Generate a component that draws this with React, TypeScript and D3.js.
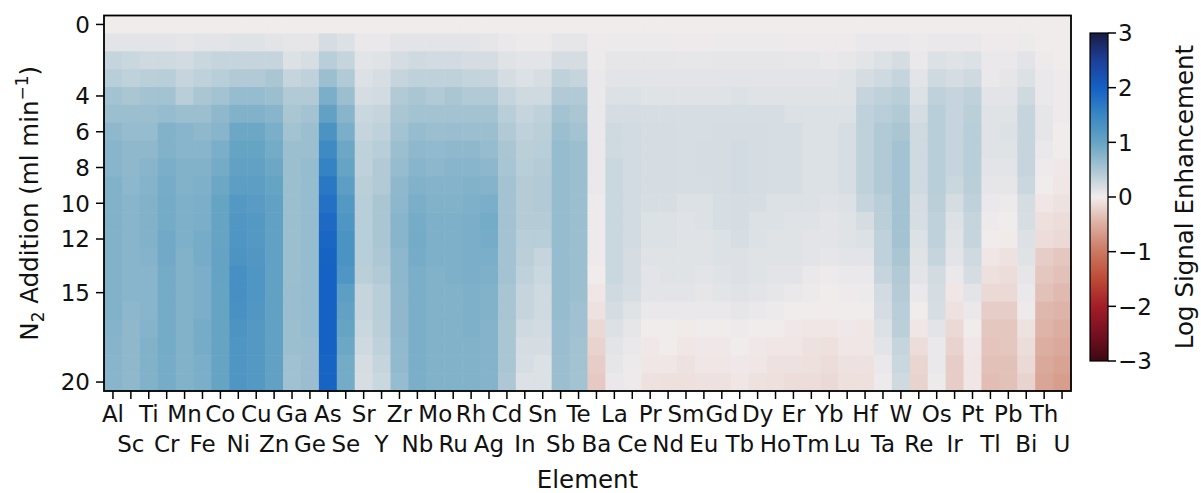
import React, { useEffect, useRef } from "react";
import * as d3 from "d3";

const elements = [
  "Al", "Sc", "Ti", "Cr", "Mn", "Fe", "Co", "Ni", "Cu", "Zn", "Ga", "Ge", "As", "Se",
  "Sr", "Y", "Zr", "Nb", "Mo", "Ru", "Rh", "Ag", "Cd", "In", "Sn", "Sb", "Te",
  "Ba", "La", "Ce", "Pr", "Nd", "Sm", "Eu", "Gd", "Tb", "Dy", "Ho", "Er", "Tm", "Yb", "Lu",
  "Hf", "Ta", "W", "Re", "Os", "Ir", "Pt", "Tl", "Pb", "Bi", "Th", "U",
];

const n2Levels = [0, 1, 2, 3, 4, 5, 6, 7, 8, 9, 10, 11, 12, 13, 14, 15, 16, 17, 18, 19, 20];
const n2Ticks = [0, 4, 6, 8, 10, 12, 15, 20];
const cbarTicks = [3, 2, 1, 0, -1, -2, -3];

// log signal enhancement per element, one value per N2 level (0..20)
const lightMetals = [
  [0, 0.1, 0.3, 0.4, 0.55, 0.6, 0.7, 0.75, 0.75, 0.8, 0.8, 0.8, 0.8, 0.8, 0.8, 0.8, 0.8, 0.78, 0.76, 0.75, 0.75], // Al
  [0, 0.1, 0.28, 0.35, 0.5, 0.6, 0.65, 0.7, 0.7, 0.72, 0.75, 0.75, 0.75, 0.75, 0.75, 0.75, 0.72, 0.7, 0.7, 0.7, 0.7], // Sc
  [0, 0.1, 0.25, 0.38, 0.55, 0.6, 0.65, 0.7, 0.75, 0.78, 0.8, 0.8, 0.8, 0.78, 0.75, 0.75, 0.75, 0.78, 0.8, 0.8, 0.8], // Ti
  [0, 0.1, 0.25, 0.4, 0.55, 0.65, 0.8, 0.8, 0.85, 0.88, 0.9, 0.9, 0.92, 0.92, 0.9, 0.9, 0.9, 0.9, 0.9, 0.88, 0.88], // Cr
  [0, 0.08, 0.22, 0.3, 0.4, 0.6, 0.75, 0.75, 0.8, 0.8, 0.82, 0.82, 0.82, 0.8, 0.8, 0.8, 0.8, 0.8, 0.8, 0.8, 0.8], // Mn
  [0, 0.1, 0.28, 0.35, 0.5, 0.6, 0.7, 0.75, 0.8, 0.82, 0.85, 0.85, 0.88, 0.88, 0.85, 0.85, 0.85, 0.88, 0.88, 0.85, 0.85], // Fe
  [0, 0.1, 0.3, 0.4, 0.55, 0.7, 0.75, 0.85, 0.9, 0.95, 1.0, 1.0, 1.0, 1.02, 1.02, 1.0, 1.0, 1.0, 1.0, 1.0, 1.0], // Co
  [0, 0.12, 0.3, 0.45, 0.65, 0.8, 0.95, 1.0, 1.05, 1.1, 1.2, 1.22, 1.25, 1.28, 1.35, 1.35, 1.32, 1.28, 1.25, 1.25, 1.25], // Ni
  [0, 0.12, 0.3, 0.45, 0.65, 0.8, 0.95, 1.0, 1.05, 1.1, 1.15, 1.2, 1.2, 1.22, 1.25, 1.25, 1.22, 1.2, 1.2, 1.2, 1.2], // Cu
  [0, 0.1, 0.3, 0.5, 0.6, 0.75, 0.85, 0.9, 0.95, 1.0, 1.05, 1.05, 1.05, 1.05, 1.05, 1.05, 1.05, 1.05, 1.05, 1.05, 1.05], // Zn
  [0, 0.08, 0.15, 0.3, 0.45, 0.5, 0.55, 0.6, 0.6, 0.6, 0.6, 0.6, 0.6, 0.6, 0.6, 0.62, 0.62, 0.6, 0.6, 0.58, 0.58], // Ga
  [0, 0.08, 0.18, 0.35, 0.45, 0.55, 0.6, 0.6, 0.65, 0.65, 0.65, 0.65, 0.65, 0.65, 0.65, 0.65, 0.65, 0.65, 0.62, 0.62, 0.62], // Ge
  [0, 0.2, 0.4, 0.6, 0.85, 1.05, 1.3, 1.45, 1.55, 1.7, 1.8, 1.88, 1.92, 1.96, 1.98, 1.98, 1.98, 1.98, 1.98, 1.95, 1.95], // As
  [0, 0.15, 0.3, 0.45, 0.6, 0.75, 0.85, 0.95, 1.0, 1.1, 1.2, 1.25, 1.3, 1.3, 1.25, 1.1, 1.05, 1.0, 0.95, 0.9, 0.9], // Se
];

const midMetals = [
  [0, 0.05, 0.1, 0.15, 0.2, 0.28, 0.3, 0.35, 0.35, 0.38, 0.4, 0.4, 0.4, 0.4, 0.38, 0.3, 0.3, 0.28, 0.25, 0.2, 0.18], // Sr
  [0, 0.05, 0.12, 0.18, 0.22, 0.3, 0.35, 0.4, 0.45, 0.45, 0.5, 0.5, 0.5, 0.48, 0.45, 0.4, 0.4, 0.38, 0.35, 0.3, 0.28], // Y
  [0, 0.1, 0.2, 0.3, 0.45, 0.5, 0.55, 0.6, 0.65, 0.7, 0.72, 0.75, 0.75, 0.72, 0.72, 0.7, 0.7, 0.7, 0.68, 0.68, 0.65], // Zr
  [0, 0.1, 0.25, 0.35, 0.5, 0.55, 0.65, 0.7, 0.75, 0.8, 0.85, 0.88, 0.9, 0.88, 0.85, 0.85, 0.85, 0.85, 0.85, 0.85, 0.85], // Nb
  [0, 0.1, 0.22, 0.35, 0.45, 0.55, 0.6, 0.68, 0.72, 0.78, 0.8, 0.82, 0.82, 0.82, 0.8, 0.8, 0.8, 0.8, 0.8, 0.8, 0.8], // Mo
  [0, 0.1, 0.22, 0.35, 0.5, 0.55, 0.62, 0.7, 0.75, 0.78, 0.8, 0.82, 0.82, 0.82, 0.82, 0.8, 0.8, 0.8, 0.8, 0.8, 0.8], // Ru
  [0, 0.1, 0.2, 0.32, 0.45, 0.55, 0.6, 0.7, 0.75, 0.8, 0.82, 0.85, 0.85, 0.85, 0.85, 0.82, 0.82, 0.82, 0.8, 0.8, 0.8], // Rh
  [0, 0.08, 0.2, 0.3, 0.45, 0.55, 0.6, 0.65, 0.72, 0.78, 0.85, 0.9, 0.88, 0.85, 0.82, 0.8, 0.8, 0.78, 0.78, 0.78, 0.78], // Ag
  [0, 0.05, 0.12, 0.2, 0.3, 0.4, 0.45, 0.5, 0.52, 0.55, 0.55, 0.55, 0.55, 0.55, 0.55, 0.52, 0.52, 0.5, 0.5, 0.5, 0.48], // Cd
  [0, 0.03, 0.1, 0.15, 0.25, 0.3, 0.35, 0.38, 0.4, 0.42, 0.42, 0.42, 0.4, 0.38, 0.35, 0.3, 0.3, 0.25, 0.2, 0.18, 0.15], // In
  [0, 0.03, 0.1, 0.18, 0.25, 0.35, 0.38, 0.4, 0.42, 0.45, 0.45, 0.42, 0.4, 0.3, 0.28, 0.25, 0.25, 0.22, 0.2, 0.15, 0.15], // Sn
  [0, 0.08, 0.2, 0.35, 0.45, 0.55, 0.6, 0.65, 0.65, 0.65, 0.65, 0.65, 0.65, 0.65, 0.65, 0.65, 0.65, 0.62, 0.62, 0.6, 0.6], // Sb
  [0, 0.08, 0.2, 0.3, 0.45, 0.5, 0.55, 0.6, 0.6, 0.6, 0.6, 0.6, 0.6, 0.6, 0.6, 0.6, 0.58, 0.58, 0.55, 0.55, 0.55], // Te
];

const lanthanides = [
  [0, 0.02, 0.03, 0.05, 0.05, 0.05, 0.05, 0.05, 0.05, 0.05, 0.03, 0.02, 0.02, 0.02, 0, -0.05, -0.08, -0.15, -0.2, -0.25, -0.28], // Ba
  [0, 0.03, 0.08, 0.1, 0.15, 0.2, 0.25, 0.25, 0.28, 0.28, 0.28, 0.28, 0.28, 0.28, 0.28, 0.25, 0.2, 0.15, 0.1, 0.08, 0.05], // La
  [0, 0.03, 0.08, 0.1, 0.15, 0.2, 0.22, 0.22, 0.22, 0.22, 0.22, 0.22, 0.22, 0.2, 0.2, 0.18, 0.12, 0.08, 0.05, 0.03, 0.02], // Ce
  [0, 0.03, 0.08, 0.1, 0.12, 0.18, 0.2, 0.2, 0.2, 0.2, 0.18, 0.15, 0.15, 0.12, 0.1, 0.1, 0.05, 0, -0.03, -0.05, -0.08], // Pr
  [0, 0.03, 0.08, 0.1, 0.12, 0.18, 0.2, 0.2, 0.2, 0.2, 0.18, 0.15, 0.15, 0.12, 0.12, 0.1, 0.05, 0, 0, -0.05, -0.1], // Nd
  [0, 0.02, 0.07, 0.1, 0.12, 0.18, 0.18, 0.18, 0.18, 0.18, 0.15, 0.12, 0.12, 0.12, 0.12, 0.1, 0.05, -0.02, -0.05, -0.08, -0.1], // Sm
  [0, 0.02, 0.07, 0.1, 0.12, 0.18, 0.18, 0.2, 0.2, 0.18, 0.15, 0.15, 0.12, 0.12, 0.1, 0.08, 0.05, 0, -0.03, -0.05, -0.08], // Eu
  [0, 0.03, 0.08, 0.1, 0.12, 0.18, 0.2, 0.2, 0.2, 0.2, 0.18, 0.18, 0.15, 0.15, 0.12, 0.1, 0.05, 0, -0.03, -0.05, -0.08], // Gd
  [0, 0.03, 0.08, 0.1, 0.15, 0.18, 0.2, 0.22, 0.22, 0.22, 0.2, 0.2, 0.18, 0.15, 0.15, 0.12, 0.08, 0.02, 0, -0.03, -0.05], // Tb
  [0, 0.03, 0.08, 0.1, 0.12, 0.18, 0.2, 0.2, 0.2, 0.2, 0.18, 0.15, 0.15, 0.12, 0.12, 0.1, 0.05, 0, -0.03, -0.05, -0.08], // Dy
  [0, 0.03, 0.08, 0.1, 0.12, 0.18, 0.18, 0.18, 0.18, 0.18, 0.15, 0.15, 0.12, 0.12, 0.1, 0.08, 0.03, 0, -0.05, -0.08, -0.1], // Ho
  [0, 0.02, 0.07, 0.1, 0.12, 0.15, 0.18, 0.18, 0.18, 0.18, 0.15, 0.12, 0.12, 0.12, 0.1, 0.05, 0, -0.03, -0.05, -0.08, -0.12], // Er
  [0, 0.02, 0.07, 0.1, 0.12, 0.15, 0.15, 0.15, 0.15, 0.15, 0.15, 0.12, 0.1, 0.1, 0.05, 0.03, 0, -0.05, -0.08, -0.1, -0.12], // Tm
  [0, 0.02, 0.05, 0.1, 0.12, 0.15, 0.15, 0.15, 0.15, 0.15, 0.12, 0.1, 0.1, 0.08, 0.02, 0, 0, -0.05, -0.1, -0.12, -0.15], // Yb
  [0, 0.02, 0.07, 0.12, 0.12, 0.15, 0.18, 0.18, 0.18, 0.18, 0.15, 0.12, 0.12, 0.1, 0.05, 0.02, 0, -0.03, -0.05, -0.08, -0.1], // Lu
];

const heavyMetals = [
  [0, 0.05, 0.1, 0.2, 0.3, 0.35, 0.35, 0.35, 0.35, 0.35, 0.3, 0.2, 0.15, 0.1, 0.05, 0.03, 0, -0.05, -0.05, -0.08, -0.1], // Hf
  [0, 0.05, 0.15, 0.25, 0.35, 0.4, 0.45, 0.45, 0.45, 0.45, 0.4, 0.38, 0.35, 0.35, 0.3, 0.22, 0.2, 0.15, 0.1, 0.05, 0.03], // Ta
  [0, 0.05, 0.2, 0.3, 0.4, 0.45, 0.5, 0.55, 0.55, 0.55, 0.55, 0.55, 0.55, 0.5, 0.45, 0.42, 0.4, 0.38, 0.3, 0.28, 0.25], // W
  [0, 0.03, 0.05, 0.1, 0.15, 0.2, 0.25, 0.25, 0.25, 0.25, 0.2, 0.18, 0.15, 0.12, 0.1, 0.05, 0, -0.05, -0.12, -0.18, -0.2], // Re
  [0, 0.05, 0.15, 0.25, 0.35, 0.4, 0.4, 0.4, 0.4, 0.4, 0.38, 0.35, 0.35, 0.3, 0.22, 0.2, 0.18, 0.1, 0.05, 0.05, 0.03], // Os
  [0, 0.05, 0.12, 0.2, 0.3, 0.3, 0.3, 0.3, 0.3, 0.28, 0.2, 0.15, 0.12, 0.1, 0.05, -0.05, -0.08, -0.15, -0.2, -0.25, -0.25], // Ir
  [0, 0.05, 0.15, 0.25, 0.35, 0.38, 0.4, 0.4, 0.4, 0.38, 0.35, 0.3, 0.3, 0.25, 0.2, 0.1, 0.05, 0, -0.03, -0.05, -0.05], // Pt
  [0, 0.02, 0.05, 0.05, 0.1, 0.12, 0.12, 0.12, 0.1, 0.08, 0.05, 0.02, 0, -0.05, -0.1, -0.15, -0.25, -0.3, -0.32, -0.35, -0.38], // Tl
  [0, 0.02, 0.05, 0.08, 0.1, 0.12, 0.15, 0.12, 0.1, 0.08, 0.03, 0, -0.02, -0.08, -0.12, -0.15, -0.25, -0.3, -0.3, -0.35, -0.35], // Pb
  [0, 0.03, 0.1, 0.15, 0.25, 0.3, 0.3, 0.3, 0.3, 0.28, 0.2, 0.18, 0.15, 0.12, 0.08, 0.05, 0.02, -0.08, -0.12, -0.15, -0.2], // Bi
  [0, 0, 0.02, 0.05, 0.05, 0.08, 0.08, 0.05, 0.02, 0, -0.05, -0.1, -0.12, -0.25, -0.3, -0.35, -0.42, -0.45, -0.5, -0.55, -0.58], // Th
  [0, 0, 0, 0.02, 0.02, 0.02, 0, 0, -0.03, -0.05, -0.08, -0.12, -0.15, -0.3, -0.35, -0.4, -0.45, -0.5, -0.55, -0.6, -0.65], // U
];

// diverging "balance"-like colormap, sampled along the colorbar
const cmapValues = [3, 2.5, 2, 1.5, 1, 0.5, 0, -0.5, -1, -1.5, -2, -2.5, -3];
const cmapColors = [
  "#181c43", "#1d3f99", "#1460c4", "#3987c3", "#66a4c4", "#aac6d3", "#f1ecec",
  "#dcaea1", "#cb7862", "#bd4a36", "#a31d28", "#761021", "#3c0912",
];

const App = () => {
  const ref = useRef<SVGSVGElement>(null);

  useEffect(() => {
    const svg = d3.select(ref.current);
    svg.selectAll("*").remove();

    const left = 104;
    const right = 1071;
    const top = 15.5;
    const bottom = 391;
    const font = "DejaVu Sans, sans-serif";
    const tickSize = 23;
    const labelSize = 24.5;

    const table = [...lightMetals, ...midMetals, ...lanthanides, ...heavyMetals];
    const cells: { el: string; n2: number; v: number }[] = [];
    elements.forEach((el, i) => {
      n2Levels.forEach((n2, j) => cells.push({ el, n2, v: table[i][j] }));
    });

    const xScale = d3.scaleBand<string>().domain(elements).range([left, right]);
    const yScale = d3.scaleBand<number>().domain(n2Levels).range([top, bottom]);
    const color = d3.scaleLinear<string>().domain(cmapValues).range(cmapColors).clamp(true);

    // heatmap cells
    svg
      .append("g")
      .selectAll("rect")
      .data(cells)
      .enter()
      .append("rect")
      .attr("x", (d) => xScale(d.el)!)
      .attr("y", (d) => yScale(d.n2)!)
      .attr("width", xScale.bandwidth() + 0.6)
      .attr("height", yScale.bandwidth() + 0.6)
      .attr("fill", (d) => color(d.v));

    svg
      .append("rect")
      .attr("x", left)
      .attr("y", top)
      .attr("width", right - left)
      .attr("height", bottom - top)
      .attr("fill", "none")
      .attr("stroke", "#000")
      .attr("stroke-width", 1.8);

    // y axis
    const yAxis = svg.append("g");
    n2Ticks.forEach((t) => {
      const y = yScale(t)! + yScale.bandwidth() / 2;
      yAxis.append("line").attr("x1", left - 8).attr("x2", left).attr("y1", y).attr("y2", y)
        .attr("stroke", "#000").attr("stroke-width", 1.5);
      yAxis.append("text").attr("x", left - 14).attr("y", y).attr("dy", "0.36em")
        .attr("text-anchor", "end").attr("font-family", font).attr("font-size", tickSize)
        .attr("fill", "#111").text(t);
    });

    // x axis, labels staggered on two lines
    const xAxis = svg.append("g");
    elements.forEach((el, i) => {
      const x = xScale(el)! + xScale.bandwidth() / 2;
      xAxis.append("line").attr("x1", x).attr("x2", x).attr("y1", bottom).attr("y2", bottom + 8)
        .attr("stroke", "#000").attr("stroke-width", 1.5);
      xAxis.append("text").attr("x", x).attr("y", i % 2 === 0 ? 422 : 452)
        .attr("text-anchor", "middle").attr("font-family", font).attr("font-size", tickSize)
        .attr("fill", "#111").text(el);
    });

    svg.append("text").attr("x", (left + right) / 2).attr("y", 488)
      .attr("text-anchor", "middle").attr("font-family", font).attr("font-size", labelSize)
      .attr("fill", "#111").text("Element");

    const yLabel = svg.append("text")
      .attr("transform", `translate(38,${(top + bottom) / 2}) rotate(-90)`)
      .attr("text-anchor", "middle").attr("font-family", font).attr("font-size", labelSize)
      .attr("fill", "#111");
    yLabel.append("tspan").text("N");
    yLabel.append("tspan").attr("dy", 6).attr("font-size", 17).text("2");
    yLabel.append("tspan").attr("dy", -6).text(" Addition (ml min");
    yLabel.append("tspan").attr("dy", -10).attr("font-size", 17).text("\u22121");
    yLabel.append("tspan").attr("dy", 10).text(")");

    // colorbar
    const cbX = 1090;
    const cbW = 18;
    const cScale = d3.scaleLinear().domain([3, -3]).range([33, 361]);
    const grad = svg.append("defs").append("linearGradient").attr("id", "cbar")
      .attr("x1", 0).attr("y1", 0).attr("x2", 0).attr("y2", 1);
    cmapValues.forEach((v, i) => {
      grad.append("stop").attr("offset", (3 - v) / 6).attr("stop-color", cmapColors[i]);
    });
    svg.append("rect").attr("x", cbX).attr("y", cScale(3)).attr("width", cbW)
      .attr("height", cScale(-3) - cScale(3)).attr("fill", "url(#cbar)")
      .attr("stroke", "#000").attr("stroke-width", 1.2);
    cbarTicks.forEach((t) => {
      const y = cScale(t);
      svg.append("line").attr("x1", cbX + cbW).attr("x2", cbX + cbW + 8).attr("y1", y).attr("y2", y)
        .attr("stroke", "#000").attr("stroke-width", 1.5);
      svg.append("text").attr("x", cbX + cbW + 10).attr("y", y).attr("dy", "0.36em")
        .attr("font-family", font).attr("font-size", tickSize).attr("fill", "#111")
        .text(t < 0 ? `\u2212${-t}` : `${t}`);
    });
    svg.append("text")
      .attr("transform", `translate(1193,${(cScale(3) + cScale(-3)) / 2}) rotate(-90)`)
      .attr("text-anchor", "middle").attr("font-family", font)
      .attr("font-size", labelSize).attr("fill", "#111").text("Log Signal Enhancement");
  }, []);

  return (
    <svg
      ref={ref}
      width={1201}
      height={493}
      style={{ position: "absolute", left: 0, top: 0, background: "#fff" }}
    />
  );
};

export default App;
